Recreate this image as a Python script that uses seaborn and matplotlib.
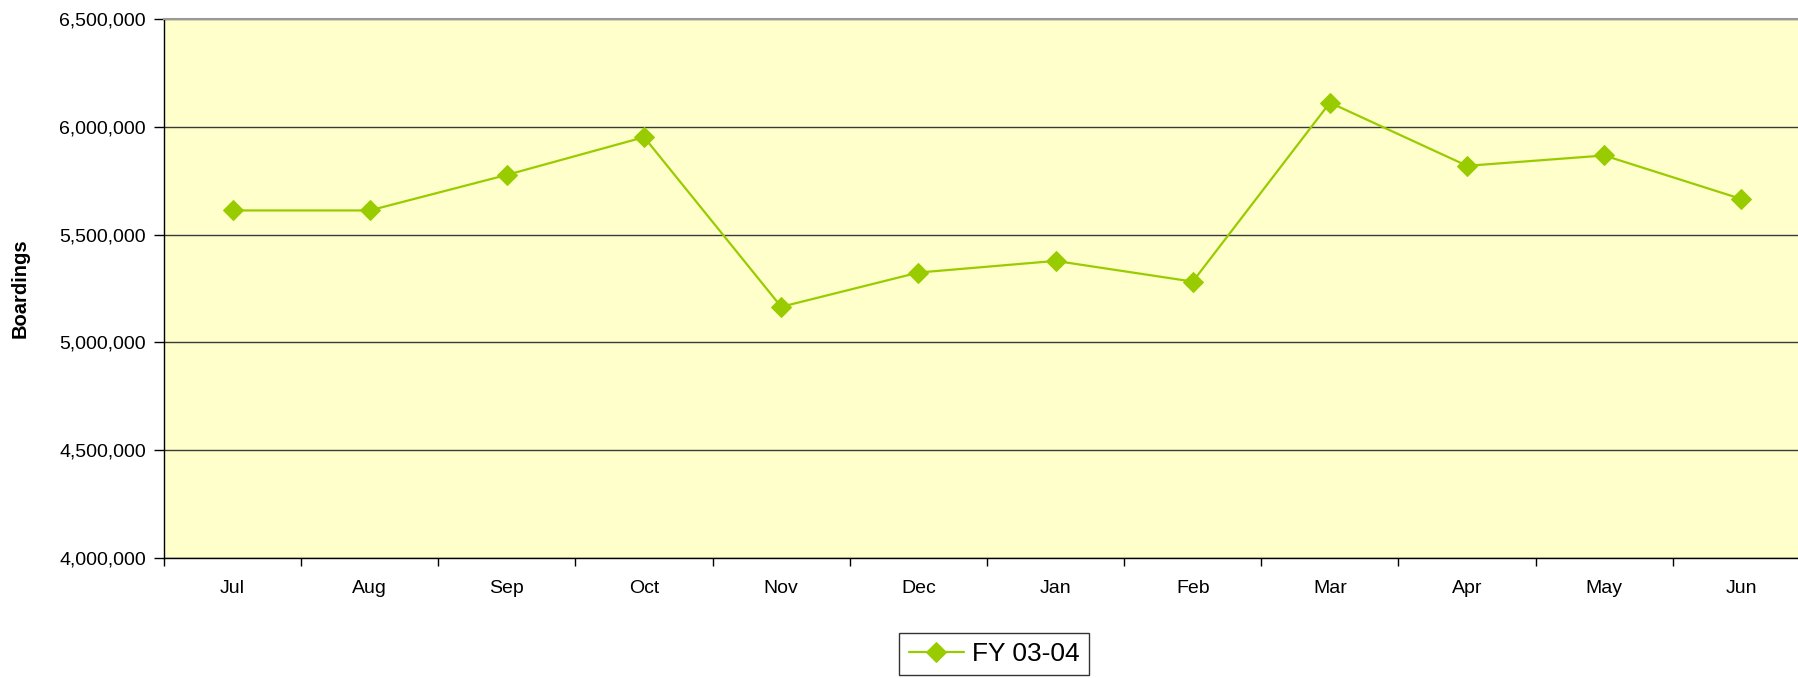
import pandas as pd
import matplotlib
matplotlib.use('Agg')
import matplotlib.pyplot as plt
from matplotlib.ticker import FuncFormatter
import seaborn as sns

months = ['Jul', 'Aug', 'Sep', 'Oct', 'Nov', 'Dec', 'Jan', 'Feb', 'Mar', 'Apr', 'May', 'Jun']
boardings = [5612000, 5612000, 5777000, 5952000, 5165000, 5324000,
             5378000, 5282000, 6112000, 5819000, 5867000, 5665000]
series_name = 'FY 03-04'
y_ticks = [4000000, 4500000, 5000000, 5500000, 6000000, 6500000]


sns.set_theme(style='white')
plt.rcParams['font.family'] = ['Liberation Sans', 'DejaVu Sans']

df = pd.DataFrame({'month': months, 'boardings': boardings})

fig = plt.figure(figsize=(17.99, 6.78), dpi=100)
ax = fig.add_axes([164 / 1799, 1 - 558 / 678, 1646 / 1799, 539 / 678])
ax.set_facecolor('#FFFFCC')

sns.lineplot(data=df, x='month', y='boardings', ax=ax, color='#99CC00',
             marker='D', markersize=10, markeredgecolor='#99CC00',
             linewidth=1.6, label=series_name, sort=False)

ax.set_xlim(-0.5, len(months) - 0.5)
ax.set_ylim(4000000, 6500000)
ax.set_yticks(y_ticks)
ax.yaxis.set_major_formatter(FuncFormatter(lambda v, p: f'{int(v):,}'))

# x ticks sit between the categories, labels in the middle
ax.set_xticks([i - 0.5 for i in range(len(months) + 1)], minor=False)
ax.set_xticklabels([])
ax.set_xticks(range(len(months)), minor=True)
ax.set_xticklabels(months, minor=True)
ax.tick_params(axis='x', which='major', direction='out', length=6, width=1, color='black', bottom=True)
ax.tick_params(axis='x', which='minor', length=0, pad=16, labelsize=14, labelcolor='black')
ax.tick_params(axis='y', direction='out', length=7, width=1, color='black', left=True,
               labelsize=14, labelcolor='black', pad=6)

ax.yaxis.grid(True, color='#3a3a3a', linewidth=1)
ax.xaxis.grid(False)
ax.set_axisbelow(True)

ax.spines['left'].set_color('black')
ax.spines['bottom'].set_color('black')
ax.spines['top'].set_color('#999999')
ax.spines['top'].set_linewidth(1.5)
ax.spines['right'].set_visible(False)
for s in ['left', 'bottom']:
    ax.spines[s].set_linewidth(1)

ax.set_xlabel('')
ax.set_ylabel('Boardings', fontsize=14.5, fontweight='bold', color='black', labelpad=21)

ax.get_legend().remove()
handles, labels = ax.get_legend_handles_labels()
leg = fig.legend(handles, labels, loc='upper center', bbox_to_anchor=(994 / 1799, 1 - 633 / 678),
                 fontsize=19, frameon=True, fancybox=False, shadow=False,
                 handlelength=2.1, handletextpad=0.3, borderpad=0.35, borderaxespad=0)
leg.get_frame().set_edgecolor('black')
leg.get_frame().set_linewidth(1)
leg.get_frame().set_facecolor('white')
for t in leg.get_texts():
    t.set_color('black')

fig.savefig('out.png', dpi=100, facecolor='white')
